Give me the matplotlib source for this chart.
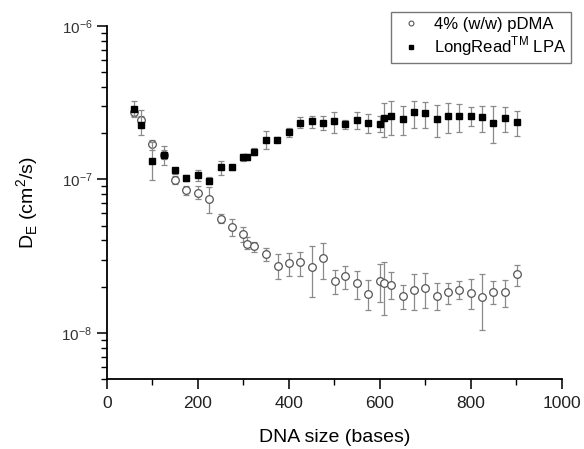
import numpy as np
import matplotlib
matplotlib.use("Agg")
from matplotlib import pyplot as plt
from matplotlib.lines import Line2D

plt.rcParams['font.family'] = ['Liberation Sans', 'DejaVu Sans']
plt.rcParams['mathtext.fontset'] = 'custom'
plt.rcParams['mathtext.rm'] = 'Liberation Sans'

# LongRead LPA (filled squares)
lpa_x = [59, 75, 99, 125, 150, 175, 200, 225, 250, 275, 300, 309, 324, 349, 374,
         400, 425, 450, 475, 499, 524, 550, 575, 600, 609, 625, 650, 676, 700,
         725, 750, 775, 800, 825, 849, 875, 901]
lpa_y = [2.88e-7, 2.27e-7, 1.32e-7, 1.44e-7, 1.15e-7, 1.02e-7, 1.07e-7, 9.8e-8,
         1.20e-7, 1.20e-7, 1.39e-7, 1.40e-7, 1.52e-7, 1.82e-7, 1.82e-7, 2.05e-7,
         2.33e-7, 2.39e-7, 2.35e-7, 2.39e-7, 2.29e-7, 2.44e-7, 2.34e-7, 2.29e-7,
         2.51e-7, 2.59e-7, 2.49e-7, 2.74e-7, 2.70e-7, 2.49e-7, 2.60e-7, 2.58e-7,
         2.60e-7, 2.54e-7, 2.35e-7, 2.53e-7, 2.37e-7]
lpa_lo = [2.54e-7, 1.96e-7, 9.9e-8, 1.24e-7, 1.09e-7, 9.7e-8, 9.8e-8, 9.3e-8,
          1.07e-7, 1.15e-7, 1.32e-7, 1.34e-7, 1.45e-7, 1.58e-7, 1.75e-7, 1.88e-7,
          2.15e-7, 2.15e-7, 2.10e-7, 2.01e-7, 2.12e-7, 2.12e-7, 2.00e-7, 2.05e-7,
          1.88e-7, 1.95e-7, 1.95e-7, 2.18e-7, 2.18e-7, 1.88e-7, 2.00e-7, 2.03e-7,
          2.23e-7, 2.05e-7, 1.72e-7, 2.05e-7, 1.92e-7]
lpa_hi = [3.24e-7, 2.83e-7, 1.75e-7, 1.65e-7, 1.19e-7, 1.07e-7, 1.15e-7, 1.03e-7,
          1.32e-7, 1.25e-7, 1.46e-7, 1.46e-7, 1.60e-7, 2.08e-7, 1.90e-7, 2.18e-7,
          2.54e-7, 2.59e-7, 2.59e-7, 2.76e-7, 2.44e-7, 2.76e-7, 2.67e-7, 2.59e-7,
          3.16e-7, 3.24e-7, 3.01e-7, 3.24e-7, 3.19e-7, 3.05e-7, 3.16e-7, 3.10e-7,
          2.95e-7, 3.01e-7, 3.01e-7, 2.95e-7, 2.80e-7]

# 4% (w/w) pDMA (open circles)
pdma_x = [59, 75, 99, 125, 150, 175, 200, 225, 250, 275, 300, 309, 324, 349, 376,
          400, 425, 450, 476, 501, 524, 550, 575, 600, 609, 625, 650, 676, 700,
          725, 750, 775, 800, 825, 849, 875, 901]
pdma_y = [2.75e-7, 2.44e-7, 1.69e-7, 1.45e-7, 9.9e-8, 8.5e-8, 8.2e-8, 7.4e-8,
          5.56e-8, 4.91e-8, 4.38e-8, 3.8e-8, 3.69e-8, 3.26e-8, 2.73e-8, 2.83e-8,
          2.89e-8, 2.69e-8, 3.08e-8, 2.18e-8, 2.36e-8, 2.10e-8, 1.78e-8, 2.18e-8,
          2.12e-8, 2.06e-8, 1.74e-8, 1.90e-8, 1.96e-8, 1.74e-8, 1.84e-8, 1.91e-8,
          1.82e-8, 1.71e-8, 1.85e-8, 1.85e-8, 2.41e-8]
pdma_lo = [2.6e-7, 2.2e-7, 1.55e-7, 1.35e-7, 9.3e-8, 7.9e-8, 7.5e-8, 6.06e-8,
           5.16e-8, 4.27e-8, 3.92e-8, 3.5e-8, 3.37e-8, 2.93e-8, 2.24e-8, 2.35e-8,
           2.35e-8, 1.71e-8, 2.24e-8, 1.80e-8, 1.94e-8, 1.65e-8, 1.40e-8, 1.59e-8,
           1.30e-8, 1.65e-8, 1.43e-8, 1.40e-8, 1.46e-8, 1.40e-8, 1.54e-8, 1.65e-8,
           1.42e-8, 1.04e-8, 1.54e-8, 1.48e-8, 2.01e-8]
pdma_hi = [2.9e-7, 2.6e-7, 1.8e-7, 1.55e-7, 1.05e-7, 9.0e-8, 9.0e-8, 8.95e-8,
           5.94e-8, 5.51e-8, 4.86e-8, 4.2e-8, 3.92e-8, 3.58e-8, 3.24e-8, 3.29e-8,
           3.37e-8, 3.67e-8, 3.86e-8, 2.56e-8, 2.73e-8, 2.52e-8, 2.20e-8, 2.80e-8,
           2.90e-8, 2.50e-8, 2.04e-8, 2.41e-8, 2.46e-8, 2.10e-8, 2.10e-8, 2.17e-8,
           2.24e-8, 2.41e-8, 2.17e-8, 2.20e-8, 2.76e-8]

fig = plt.figure(figsize=(5.84, 4.49), dpi=100)
ax = fig.add_axes([0.183, 0.156, 0.779, 0.786])

pdma_err = [np.array(pdma_y) - np.array(pdma_lo), np.array(pdma_hi) - np.array(pdma_y)]
lpa_err = [np.array(lpa_y) - np.array(lpa_lo), np.array(lpa_hi) - np.array(lpa_y)]

ax.errorbar(pdma_x, pdma_y, yerr=pdma_err, fmt="o", mfc="white", mec="#555555",
            mew=0.9, ms=5.5, ecolor="#8a8a8a", elinewidth=0.9, capsize=2,
            capthick=0.9, zorder=2)
ax.errorbar(lpa_x, lpa_y, yerr=lpa_err, fmt="s", mfc="black", mec="black",
            ms=4.5, ecolor="#8a8a8a", elinewidth=0.9, capsize=2,
            capthick=0.9, zorder=3)

ax.set_yscale("log")
ax.set_xlim(0, 1000)
ax.set_ylim(5e-9, 1e-6)
ax.set_xticks(range(0, 1001, 200))
ax.set_xticks(range(100, 1000, 200), minor=True)

ax.spines["top"].set_visible(False)
ax.spines["right"].set_visible(False)
ax.spines["left"].set_linewidth(1.3)
ax.spines["bottom"].set_linewidth(1.3)
ax.tick_params(which="major", direction="out", length=7, width=1.3,
               labelsize=12.5, colors="#222222")
ax.tick_params(axis="x", which="major", pad=5)
ax.tick_params(which="minor", direction="out", length=4, width=1.0)
ax.tick_params(axis="y", which="major", labelsize=11, labelcolor="#333333")

ax.set_xlabel("DNA size (bases)", fontsize=14)
ax.set_ylabel(r"D$_\mathregular{E}$ (cm$^\mathregular{2}$/s)", fontsize=14)
ax.xaxis.set_label_coords(0.5, -0.142)
ax.yaxis.set_label_coords(-0.145, 0.5)

handles = [Line2D([], [], ls="none", marker="o", mfc="white", mec="#555555", ms=3.5, mew=0.8),
           Line2D([], [], ls="none", marker="s", mfc="black", mec="black", ms=3.5)]
labels = ["4% (w/w) pDMA", r"LongRead$^\mathregular{TM}$ LPA"]
leg = ax.legend(handles, labels, loc="upper right", bbox_to_anchor=(1.021, 1.04),
                frameon=True, fancybox=False, edgecolor="#555555", fontsize=12,
                handletextpad=0.48, handlelength=1.8, borderpad=0.3, labelspacing=0.15,
                borderaxespad=0)
leg.get_frame().set_linewidth(1.0)

fig.savefig("out.png", dpi=100)
